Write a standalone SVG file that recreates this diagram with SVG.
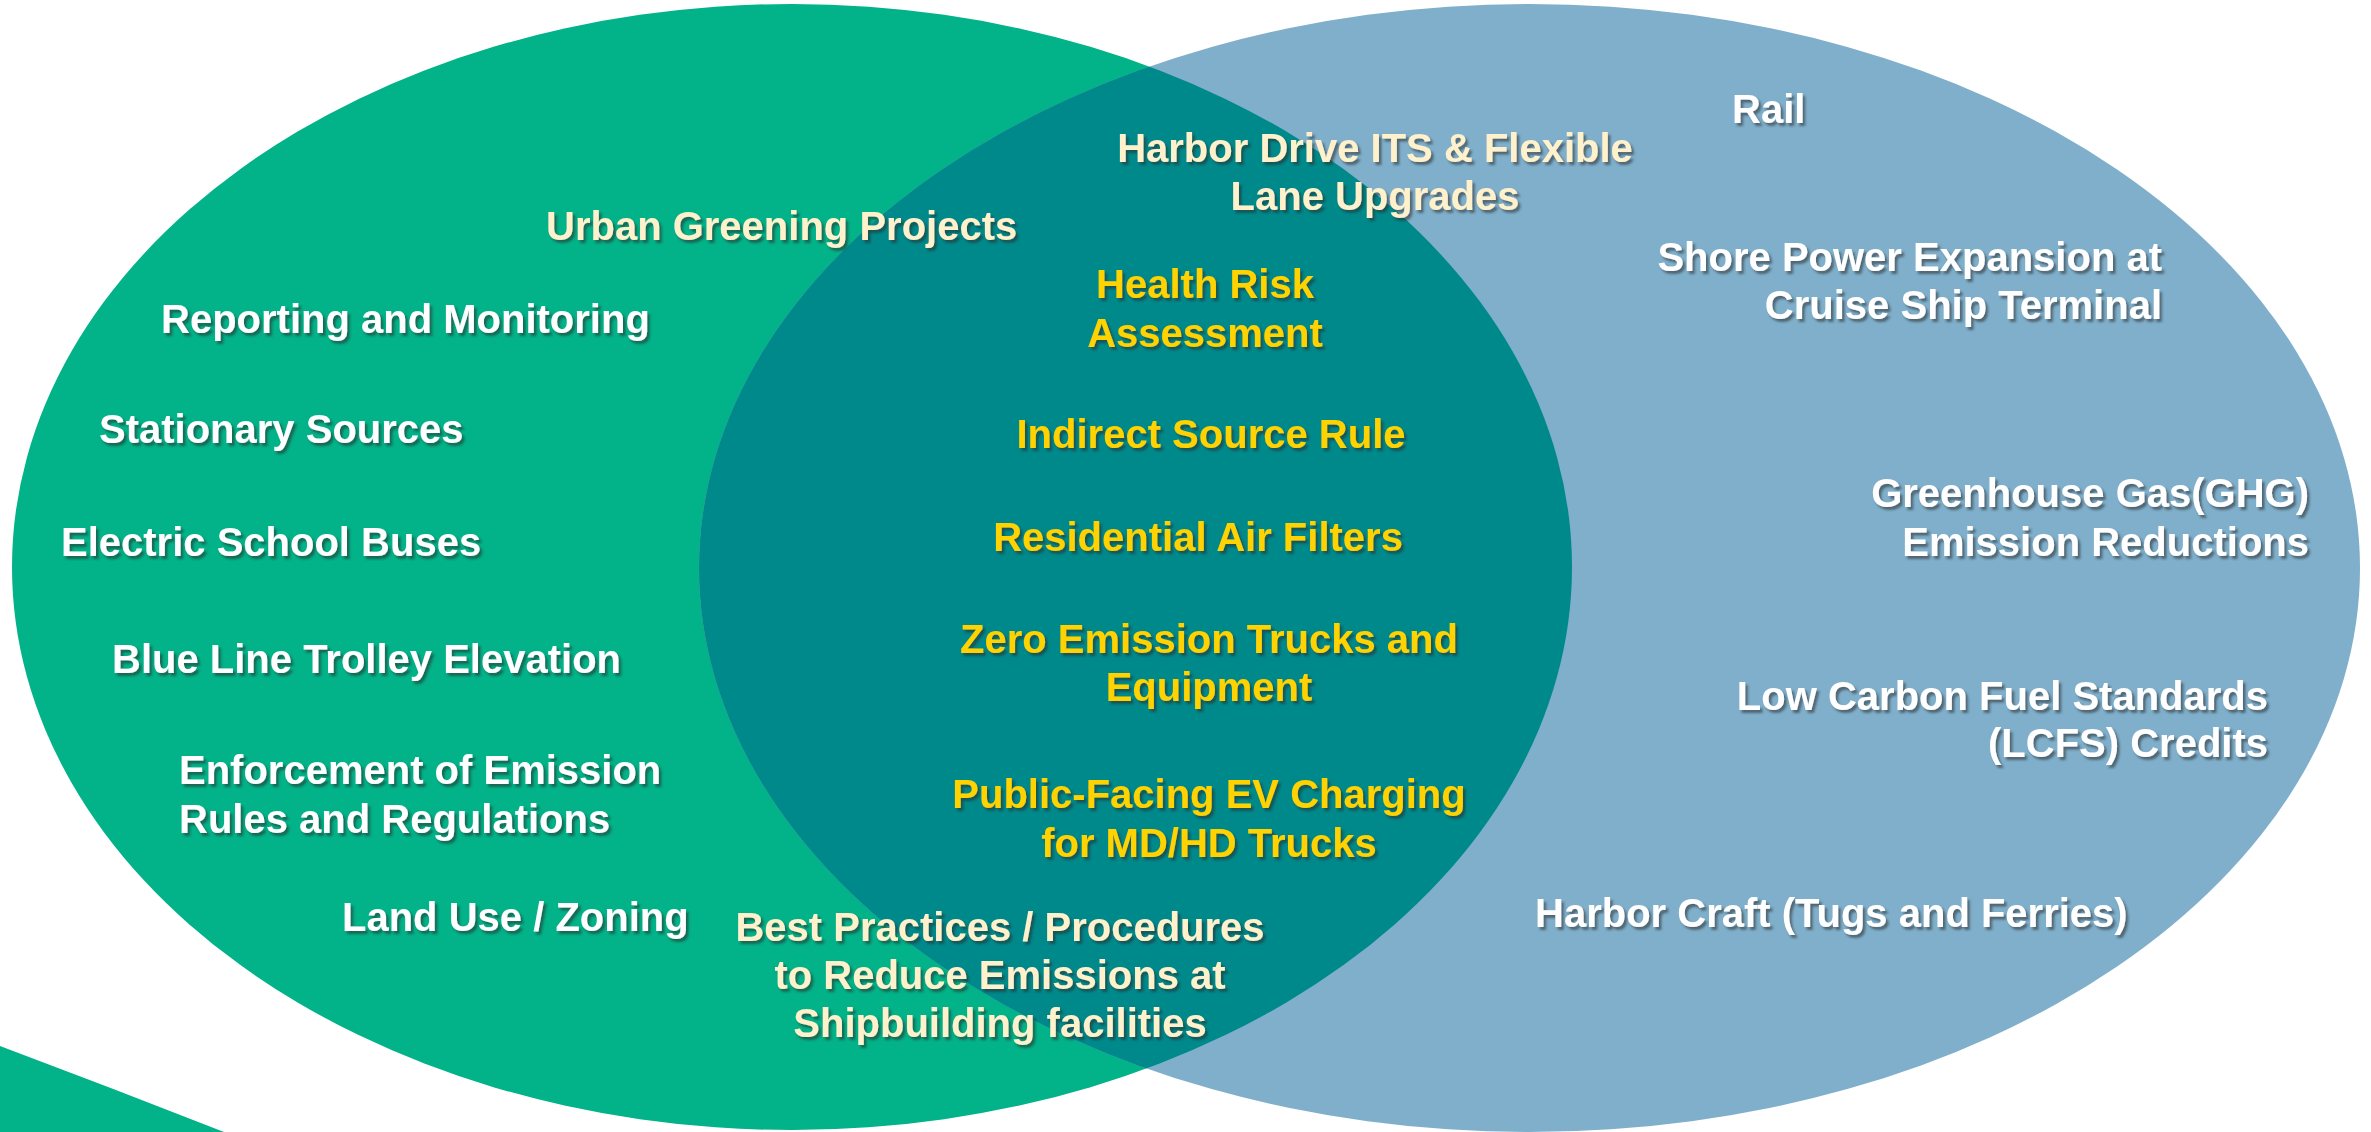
<svg xmlns="http://www.w3.org/2000/svg" width="2371" height="1132" viewBox="0 0 2371 1132">
  <style>
    text { font-family: "Liberation Sans", Arial, sans-serif; font-weight: bold; font-size: 40px; filter: url(#shadow); }
    .w { fill: #FFFFFF; }
    .c { fill: #FFF1CC; }
    .y { fill: #FFD200; }
    .mid { text-anchor: middle; }
    .end { text-anchor: end; }
  </style>
  <defs>
    <filter id="shadow" x="-5%" y="-30%" width="110%" height="160%">
      <feDropShadow dx="2.5" dy="3" stdDeviation="1.2" flood-color="#2a2a2a" flood-opacity="0.55"/>
    </filter>
    <clipPath id="blueClip">
      <ellipse cx="1529.5" cy="568" rx="830.5" ry="564"/>
    </clipPath>
  </defs>
  <rect width="2371" height="1132" fill="#FFFFFF"/>

  <g id="background-shapes">
    <path id="swoosh" d="M0,1046 Q112,1088 224,1132 L0,1132 Z" fill="#02B288"/>
    <ellipse id="green-circle" cx="792" cy="567" rx="780" ry="563" fill="#02B288"/>
    <ellipse id="blue-circle" cx="1529.5" cy="568" rx="830.5" ry="564" fill="#7FAFCB"/>
    <ellipse id="overlap" cx="792" cy="567" rx="780" ry="563" fill="#00898B" clip-path="url(#blueClip)"/>
  </g>

  <g id="connectors"></g>

  <g id="node-urban-greening"><text class="c" x="546" y="240">Urban Greening Projects</text></g>
  <g id="node-reporting"><text class="w" x="161" y="333">Reporting and Monitoring</text></g>
  <g id="node-stationary"><text class="w" x="99" y="443">Stationary Sources</text></g>
  <g id="node-school-buses"><text class="w" x="61" y="556">Electric School Buses</text></g>
  <g id="node-blue-line"><text class="w" x="112" y="673">Blue Line Trolley Elevation</text></g>
  <g id="node-enforcement">
    <text class="w" x="179" y="784">Enforcement of Emission</text>
    <text class="w" x="179" y="833">Rules and Regulations</text>
  </g>
  <g id="node-land-use"><text class="w" x="342" y="931">Land Use / Zoning</text></g>

  <g id="node-harbor-drive">
    <text class="c mid" x="1375" y="162">Harbor Drive ITS &amp; Flexible</text>
    <text class="c mid" x="1375" y="210">Lane Upgrades</text>
  </g>
  <g id="node-health-risk">
    <text class="y mid" x="1205" y="298">Health Risk</text>
    <text class="y mid" x="1205" y="347">Assessment</text>
  </g>
  <g id="node-indirect-source"><text class="y mid" x="1211" y="448">Indirect Source Rule</text></g>
  <g id="node-air-filters"><text class="y mid" x="1198" y="551">Residential Air Filters</text></g>
  <g id="node-zero-emission">
    <text class="y mid" x="1209" y="653">Zero Emission Trucks and</text>
    <text class="y mid" x="1209" y="701">Equipment</text>
  </g>
  <g id="node-ev-charging">
    <text class="y mid" x="1209" y="808">Public-Facing EV Charging</text>
    <text class="y mid" x="1209" y="857">for MD/HD Trucks</text>
  </g>
  <g id="node-best-practices">
    <text class="c mid" x="1000" y="941">Best Practices / Procedures</text>
    <text class="c mid" x="1000" y="989">to Reduce Emissions at</text>
    <text class="c mid" x="1000" y="1037">Shipbuilding facilities</text>
  </g>

  <g id="node-rail"><text class="w" x="1732" y="123">Rail</text></g>
  <g id="node-shore-power">
    <text class="w end" x="2162" y="271">Shore Power Expansion at</text>
    <text class="w end" x="2162" y="319">Cruise Ship Terminal</text>
  </g>
  <g id="node-ghg">
    <text class="w end" x="2309" y="507">Greenhouse Gas(GHG)</text>
    <text class="w end" x="2309" y="556">Emission Reductions</text>
  </g>
  <g id="node-lcfs">
    <text class="w end" x="2268" y="710">Low Carbon Fuel Standards</text>
    <text class="w end" x="2268" y="757">(LCFS) Credits</text>
  </g>
  <g id="node-harbor-craft"><text class="w" x="1535" y="927">Harbor Craft (Tugs and Ferries)</text></g>
</svg>
